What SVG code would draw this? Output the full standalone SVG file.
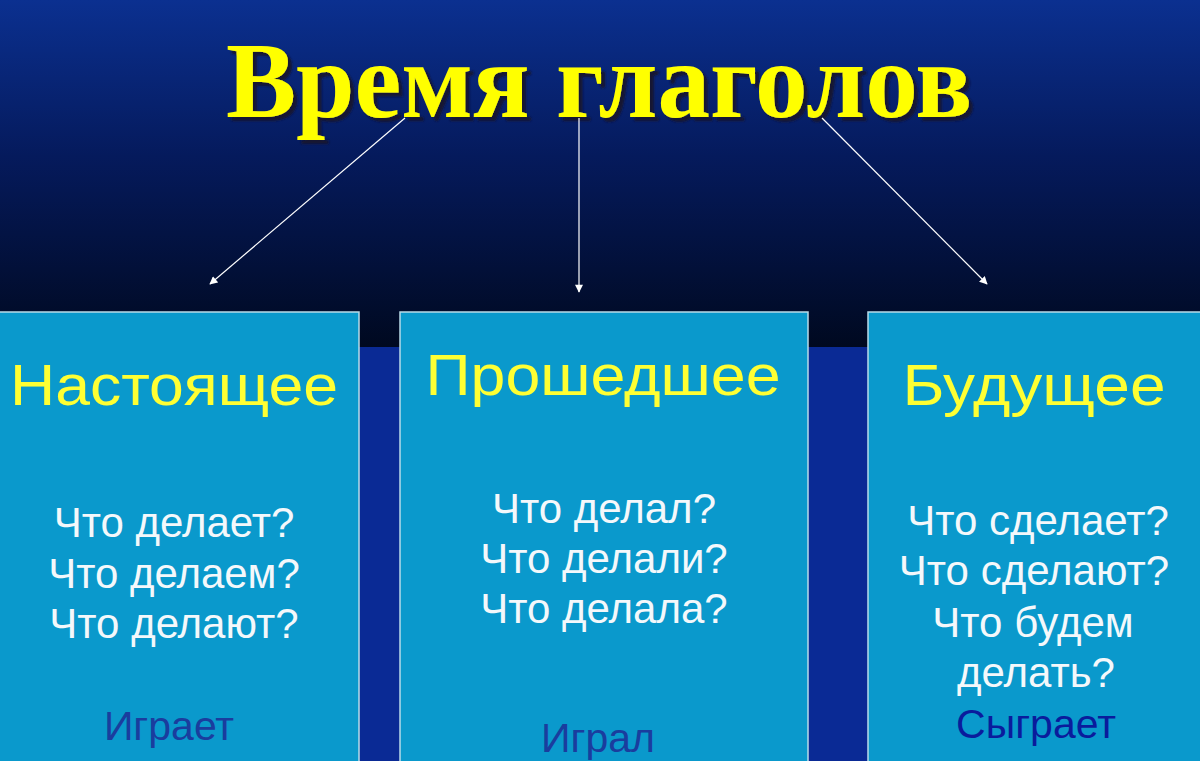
<svg xmlns="http://www.w3.org/2000/svg" width="1200" height="761" viewBox="0 0 1200 761">
  <defs>
    <linearGradient id="bg" x1="0" y1="0" x2="0" y2="1">
      <stop offset="0" stop-color="#0b3090"/>
      <stop offset="0.45" stop-color="#051a5c"/>
      <stop offset="1" stop-color="#000920"/>
    </linearGradient>
    <filter id="shadow" x="-5%" y="-20%" width="115%" height="150%">
      <feDropShadow dx="4" dy="4" stdDeviation="1.2" flood-color="#121230" flood-opacity="1"/>
    </filter>
    <marker id="arr" viewBox="0 0 10 10" refX="9" refY="5" markerWidth="9" markerHeight="8" orient="auto" markerUnits="userSpaceOnUse">
      <path d="M0,0 L10,5 L0,10 z" fill="#ffffff"/>
    </marker>
    <style>
      .box { fill: #0a99cc; stroke: #b9dbe9; stroke-width: 1.5; }
      .head { font-family: "Liberation Sans", Arial, sans-serif; font-size: 58px; fill: #ffff33; text-anchor: middle; }
      .q { font-family: "Liberation Sans", Arial, sans-serif; font-size: 42px; fill: #f4f8fb; text-anchor: middle; }
      .ex { font-family: "Liberation Sans", Arial, sans-serif; font-size: 41px; fill: #1a3d9e; text-anchor: middle; }
      .conn { stroke: #ffffff; stroke-width: 1.2; fill: none; marker-end: url(#arr); }
      .title { font-family: "Liberation Serif", "Times New Roman", serif; font-weight: bold; font-size: 108px; text-anchor: middle; fill: #ffff00; filter: url(#shadow); }
    </style>
  </defs>

  <rect x="0" y="0" width="1200" height="347" fill="url(#bg)"/>
  <rect x="0" y="347" width="1200" height="414" fill="#0a2a95"/>

  <g id="title">
    <text class="title" x="599" y="117" textLength="746" lengthAdjust="spacingAndGlyphs">Время глаголов</text>
  </g>

  <g id="connectors">
    <line class="conn" x1="405" y1="118" x2="210" y2="284"/>
    <line class="conn" x1="579" y1="118" x2="579" y2="292"/>
    <line class="conn" x1="822" y1="118" x2="987" y2="284"/>
  </g>

  <g id="present">
    <rect class="box" x="-2" y="312" width="361" height="460"/>
    <text class="head" x="174" y="405" textLength="328" lengthAdjust="spacingAndGlyphs">Настоящее</text>
    <text class="q" x="174" y="537">Что делает?</text>
    <text class="q" x="174" y="588">Что делаем?</text>
    <text class="q" x="174" y="638">Что делают?</text>
    <text class="ex" x="169" y="740">Играет</text>
  </g>

  <g id="past">
    <rect class="box" x="400" y="312" width="408" height="460"/>
    <text class="head" x="603" y="395" textLength="355" lengthAdjust="spacingAndGlyphs">Прошедшее</text>
    <text class="q" x="604" y="523">Что делал?</text>
    <text class="q" x="604" y="573">Что делали?</text>
    <text class="q" x="604" y="623">Что делала?</text>
    <text class="ex" x="598" y="752">Играл</text>
  </g>

  <g id="future">
    <rect class="box" x="868" y="312" width="340" height="460"/>
    <text class="head" x="1034" y="405" textLength="263" lengthAdjust="spacingAndGlyphs">Будущее</text>
    <text class="q" x="1038" y="535">Что сделает?</text>
    <text class="q" x="1034" y="585">Что сделают?</text>
    <text class="q" x="1033" y="637">Что будем</text>
    <text class="q" x="1036" y="687">делать?</text>
    <text class="ex" x="1036" y="738" style="fill:#0a1c9c">Сыграет</text>
  </g>
</svg>
